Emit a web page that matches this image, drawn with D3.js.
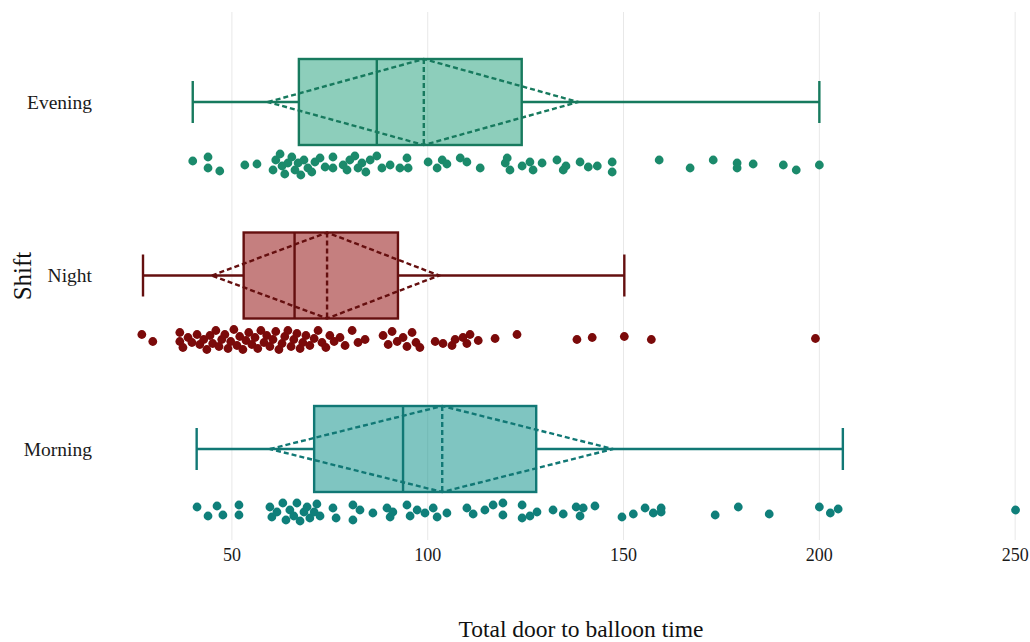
<!DOCTYPE html>
<html>
<head>
<meta charset="utf-8">
<script src="https://cdn.jsdelivr.net/npm/d3@7"></script>
<style>
  html, body { margin: 0; padding: 0; background: #ffffff; }
  svg { display: block; }
</style>
</head>
<body>
<svg id="chart" width="1030" height="642"></svg>
<script>
// ---------- DATA ----------
const shifts = ["Evening", "Night", "Morning"];
const xTicks = [50, 100, 150, 200, 250];

const whiskerLow  = [40.0, 27.3, 41.0];
const q1          = [67.1, 53.0, 71.0];
const medians     = [87.0, 66.0, 93.7];
const q3          = [124.0, 92.4, 127.7];
const whiskerHigh = [200.0, 150.2, 206.0];
const means       = [99.0, 74.3, 103.7];
const ciLow       = [59.2, 44.9, 59.7];
const ciHigh      = [138.4, 102.9, 147.3];

// points: [value, vertical jitter (-1..1)]
const eveningPts = [[40.0,-0.5],[43.9,-0.9],[43.9,0.2],[46.9,0.5],[53.3,-0.1],[56.4,-0.2],[60.5,0.4],[61.2,-0.6],[62.3,-1.2],
[62.8,0],[63.5,0.8],[64.3,-0.3],[65.3,-0.9],[66.1,0.4],[66.9,-0.3],[67.6,0.9],[68.4,-0.6],[69.4,0.2],[70.4,0.6],[71.2,-0.4],
[72.5,-0.8],[73.8,0.1],[75.8,-0.9],[75.8,0.2],[78.4,-0.1],[79.4,0.4],[80.1,-0.6],[81.4,-1.0],[82.2,0.2],[83.2,-0.3],[84.2,0.6],
[85.3,-0.6],[87.0,-1.0],[88.3,0.2],[90.4,-0.1],[92.9,0.2],[94.7,-0.8],[95.0,0.2],[100.1,-0.4],[102.4,0.2],[103.7,-0.6],[104.9,-0.2],
[108.3,-0.8],[110.0,-0.4],[113.4,0.2],[119.8,-0.3],[120.3,-0.8],[121.0,0.4],[124.1,0],[126.1,-0.4],[126.9,0.4],[129.2,-0.3],
[133.0,-0.6],[134.6,0.4],[135.3,0],[138.9,-0.4],[141.0,0.1],[143.3,0],[147.1,-0.4],[147.1,0.6],[159.1,-0.6],[167.0,0.2],
[172.9,-0.6],[179.0,-0.3],[179.0,0.2],[183.1,-0.2],[190.8,-0.1],[194.1,0.4],[200.0,-0.1]];

const nightPts = [[27.0,-0.5],[29.8,0.2],[36.7,-0.7],[36.7,0.2],[37.5,0.8],[38.8,-0.2],[39.8,0.3],[41.1,-0.5],[41.8,0.5],[42.8,0],
[43.6,1.0],[44.4,-0.4],[45.1,0.4],[45.9,-0.9],[46.7,0.7],[47.4,0],[48.2,-0.5],[49.0,0.9],[49.7,0.2],[50.5,-1.0],[51.3,0.6],
[52.0,-0.3],[52.8,1.0],[53.6,0.1],[54.3,-0.7],[55.1,0.5],[55.9,-0.2],[56.6,0.9],[57.4,-0.9],[58.2,0.3],[58.9,-0.4],[59.7,0.7],
[60.5,0],[61.2,-0.8],[62.0,1.0],[62.8,0.4],[63.5,-0.3],[64.3,-0.9],[65.1,0.7],[65.8,0],[66.6,-0.6],[67.4,0.9],[68.1,0.3],
[68.9,-0.4],[69.9,0.6],[71.0,-0.1],[72.0,-0.9],[73.0,0.3],[74.0,0.8],[75.0,-0.4],[76.1,0.2],[77.6,-0.2],[78.9,0.6],[80.7,-0.9],
[82.2,0.3],[84.0,0],[88.6,-0.4],[89.9,0.5],[90.9,-0.8],[92.2,0.2],[93.7,-0.2],[94.7,0.7],[96.0,-0.7],[97.0,0.3],[98.0,0.8],
[101.9,0.2],[103.9,0.4],[106.2,0.6],[107.0,0],[109.0,-0.2],[110.0,0.4],[110.8,-0.5],[112.9,0.1],[117.2,-0.1],[122.8,-0.5],
[138.1,0],[142.0,-0.2],[150.2,-0.3],[157.1,0],[199.0,-0.1]];

const morningPts = [[41.1,-0.6],[43.9,0.3],[46.2,-0.7],[47.7,0.2],[51.8,-0.8],[51.8,0.2],[59.7,-0.6],[60.2,0.4],[61.5,-0.1],
[63.0,-1.0],[63.8,0.7],[64.8,-0.3],[65.8,0.3],[66.6,-1.0],[67.4,0.8],[68.4,-0.1],[69.2,-0.6],[69.9,0.5],[71.0,-0.1],[71.7,-0.9],
[72.5,0.3],[75.8,-0.5],[76.6,0.5],[80.9,-0.8],[80.9,0.7],[82.7,-0.3],[86.0,0],[89.6,-0.5],[90.4,0.4],[91.1,-0.1],[94.7,-0.8],
[95.5,0.3],[97.3,-0.3],[99.3,0],[101.4,-0.5],[102.4,0.4],[104.9,0],[110.0,-0.5],[111.6,0.1],[114.6,-0.3],[116.7,-0.8],
[119.2,-1.0],[119.2,0.2],[124.1,-0.8],[124.1,0.5],[126.1,0.3],[127.9,-0.1],[132.0,-0.3],[134.6,0.1],[137.9,-0.6],[138.9,0.3],
[139.7,-0.5],[142.7,-0.7],[149.6,0.4],[152.5,0.1],[155.5,-0.5],[157.6,0],[159.6,-0.5],[159.6,-0.1],[173.4,0.2],[179.3,-0.6],
[187.2,0.1],[200.0,-0.6],[202.8,0],[204.8,-0.4],[250.1,-0.3]];

const pointSets = [eveningPts, nightPts, morningPts];

// ---------- STYLE ----------
const fillColors   = ["#1b9e77", "#8b0000", "#008b84"];
const strokeColors = ["#177a5e", "#650f0f", "#117875"];
const pointColors  = ["#1b8a6b", "#7b0a0a", "#0f7f7a"];

const svg = d3.select("#chart");

const x = d3.scaleLinear().domain([25, 252]).range([134, 1023]);
const y = d3.scalePoint().domain(shifts).range([102, 449]);

const boxHalf = 43, capHalf = 21, ptOffset = 64, jitterPx = 10;
const font = "'Liberation Serif', 'Times New Roman', serif";
const lw = 2.4;

// gridlines
svg.append("g").selectAll("line").data(xTicks).join("line")
  .attr("x1", d => x(d)).attr("x2", d => x(d))
  .attr("y1", 12).attr("y2", 540)
  .attr("stroke", "#e8e8e8").attr("stroke-width", 1);

// x tick labels
svg.append("g").selectAll("text").data(xTicks).join("text")
  .attr("x", d => x(d)).attr("y", 561)
  .attr("text-anchor", "middle")
  .attr("font-family", font).attr("font-size", 18).attr("fill", "#1a1a1a")
  .text(d => d);

// y category labels
svg.append("g").selectAll("text").data(shifts).join("text")
  .attr("x", 92).attr("y", d => y(d))
  .attr("text-anchor", "end").attr("dominant-baseline", "central")
  .attr("font-family", font).attr("font-size", 19.5).attr("fill", "#1a1a1a")
  .text(d => d);

// axis titles
svg.append("text")
  .attr("x", 581).attr("y", 637).attr("text-anchor", "middle")
  .attr("font-family", font).attr("font-size", 23.5).attr("fill", "#111")
  .text("Total door to balloon time");
svg.append("text")
  .attr("transform", "translate(31,276) rotate(-90)")
  .attr("text-anchor", "middle")
  .attr("font-family", font).attr("font-size", 25).attr("fill", "#111")
  .text("Shift");

// boxes
shifts.forEach((s, i) => {
  const cy = y(s);
  const g = svg.append("g");
  const sc = strokeColors[i];
  // whiskers
  g.append("line").attr("x1", x(whiskerLow[i])).attr("x2", x(q1[i]))
    .attr("y1", cy).attr("y2", cy).attr("stroke", sc).attr("stroke-width", lw);
  g.append("line").attr("x1", x(q3[i])).attr("x2", x(whiskerHigh[i]))
    .attr("y1", cy).attr("y2", cy).attr("stroke", sc).attr("stroke-width", lw);
  [whiskerLow[i], whiskerHigh[i]].forEach(v => {
    g.append("line").attr("x1", x(v)).attr("x2", x(v))
      .attr("y1", cy - capHalf).attr("y2", cy + capHalf)
      .attr("stroke", sc).attr("stroke-width", lw);
  });
  // box
  g.append("rect").attr("x", x(q1[i])).attr("y", cy - boxHalf)
    .attr("width", x(q3[i]) - x(q1[i])).attr("height", boxHalf * 2)
    .attr("fill", fillColors[i]).attr("fill-opacity", 0.5)
    .attr("stroke", sc).attr("stroke-width", lw);
  // median
  g.append("line").attr("x1", x(medians[i])).attr("x2", x(medians[i]))
    .attr("y1", cy - boxHalf).attr("y2", cy + boxHalf)
    .attr("stroke", sc).attr("stroke-width", lw);
  // mean diamond (dashed)
  const dpts = [[x(ciLow[i]), cy], [x(means[i]), cy - boxHalf], [x(ciHigh[i]), cy], [x(means[i]), cy + boxHalf]];
  g.append("path").attr("d", d3.line()(dpts) + "Z")
    .attr("fill", "none").attr("stroke", sc).attr("stroke-width", lw)
    .attr("stroke-dasharray", "5,3");
  g.append("line").attr("x1", x(means[i])).attr("x2", x(means[i]))
    .attr("y1", cy - boxHalf).attr("y2", cy + boxHalf)
    .attr("stroke", sc).attr("stroke-width", lw).attr("stroke-dasharray", "5,3");
  // points
  g.append("g").selectAll("circle").data(pointSets[i]).join("circle")
    .attr("cx", d => x(d[0]))
    .attr("cy", d => cy + ptOffset + d[1] * jitterPx)
    .attr("r", 4.4)
    .attr("fill", pointColors[i]);
});
</script>
</body>
</html>
